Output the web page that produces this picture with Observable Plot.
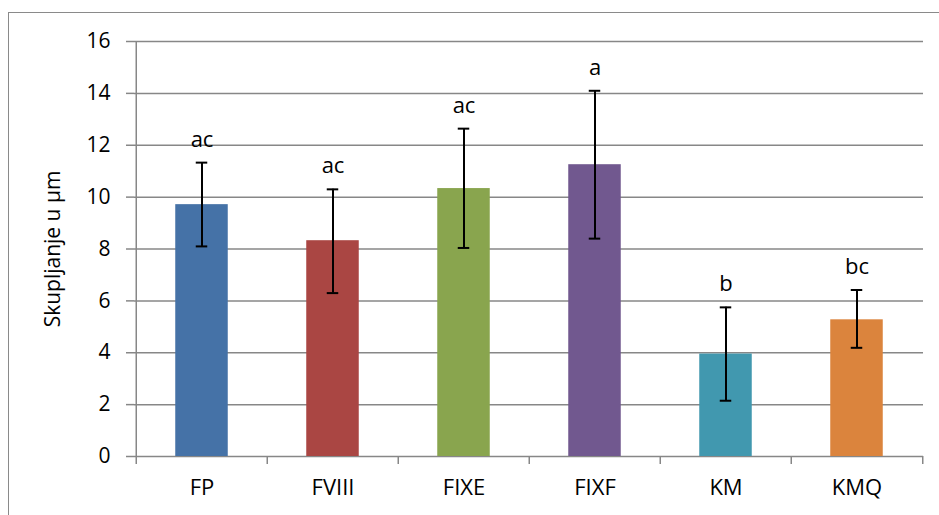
<!DOCTYPE html>
<html>
<head>
<meta charset="utf-8">
<script src="https://cdn.jsdelivr.net/npm/d3@7"></script>
<script src="https://cdn.jsdelivr.net/npm/@observablehq/plot@0.6"></script>
<style>
  html, body { margin: 0; padding: 0; background: #fff; overflow: hidden; }
  #wrap { position: relative; width: 939px; height: 515px; }
  #border { position: absolute; left: 8px; top: 12px; width: 1000px; height: 1000px;
            border: 1.5px solid #8a8a8a; pointer-events: none; }
  svg { font-family: "Open Sans", sans-serif; }
</style>
</head>
<body>
<div id="wrap"><div id="border"></div></div>
<script>
const categories = ["FP", "FVIII", "FIXE", "FIXF", "KM", "KMQ"];
const means      = [9.71, 8.32, 10.33, 11.25, 3.95, 5.27];
const errHigh    = [11.33, 10.30, 12.64, 14.10, 5.75, 6.42];
const errLow     = [8.10, 6.30, 8.04, 8.40, 2.15, 4.19];
const letters    = ["ac", "ac", "ac", "a", "b", "bc"];
const colors     = ["#4572A7", "#AA4643", "#89A54E", "#71588F", "#4198AF", "#DB843D"];
const yTicks     = [0, 2, 4, 6, 8, 10, 12, 14, 16];

const data = categories.map((c, i) => ({
  cat: c, mean: means[i], hi: errHigh[i], lo: errLow[i], lbl: letters[i], color: colors[i]
}));

const W = 939, H = 515, mL = 134, mR = 16, mT = 41, mB = 59;
const band = (W - mL - mR) / categories.length;
const barInset = (band - 53) / 2;
const capInset = (band - 12) / 2;
const gridColor = "#878787";

const chart = Plot.plot({
  width: W, height: H,
  marginLeft: mL, marginRight: mR, marginTop: mT, marginBottom: mB,
  style: { fontFamily: "Open Sans, sans-serif", fontSize: "22px", color: "#000", background: "transparent" },
  x: { domain: categories, padding: 0 },
  y: { domain: [0, 16], ticks: yTicks },
  marks: [
    Plot.ruleY(yTicks, { stroke: gridColor, strokeWidth: 1.5, strokeOpacity: 1 }),
    Plot.barY(data, { x: "cat", y: "mean", fill: "color", insetLeft: barInset, insetRight: barInset }),
    Plot.ruleX(categories, { x: d => d, dx: -band / 2, y1: 0, y2: 0, insetBottom: -8, stroke: gridColor, strokeWidth: 1.5 }),
    Plot.ruleX(categories.slice(-1), { x: d => d, dx: band / 2, y1: 0, y2: 0, insetBottom: -8, stroke: gridColor, strokeWidth: 1.5 }),
    Plot.ruleX(categories.slice(0, 1), { x: d => d, dx: -band / 2, y1: 0, y2: 16, stroke: gridColor, strokeWidth: 1.5 }),
    Plot.ruleX(data, { x: "cat", y1: "lo", y2: "hi", stroke: "#000", strokeWidth: 2 }),
    Plot.tickY(data, { x: "cat", y: "hi", stroke: "#000", strokeWidth: 2, insetLeft: capInset, insetRight: capInset }),
    Plot.tickY(data, { x: "cat", y: "lo", stroke: "#000", strokeWidth: 2, insetLeft: capInset, insetRight: capInset }),
    Plot.text(data, { x: "cat", y: "hi", text: "lbl", dy: -23, fontSize: 22, fill: "#000" }),
    Plot.axisY({ ticks: yTicks, tickSize: 8, tickPadding: 16, stroke: gridColor, strokeWidth: 1.5,
                 label: "Skupljanje u µm", labelAnchor: "center", labelArrow: "none", labelOffset: 89,
                 fontSize: 21, color: "#000" }),
    Plot.axisX({ tickSize: 0, tickPadding: 23, label: null, fontSize: 22 })
  ]
});
document.getElementById("wrap").prepend(chart);
chart.style.position = "absolute";
chart.style.left = "0px";
chart.style.top = "0px";
</script>
</body>
</html>
